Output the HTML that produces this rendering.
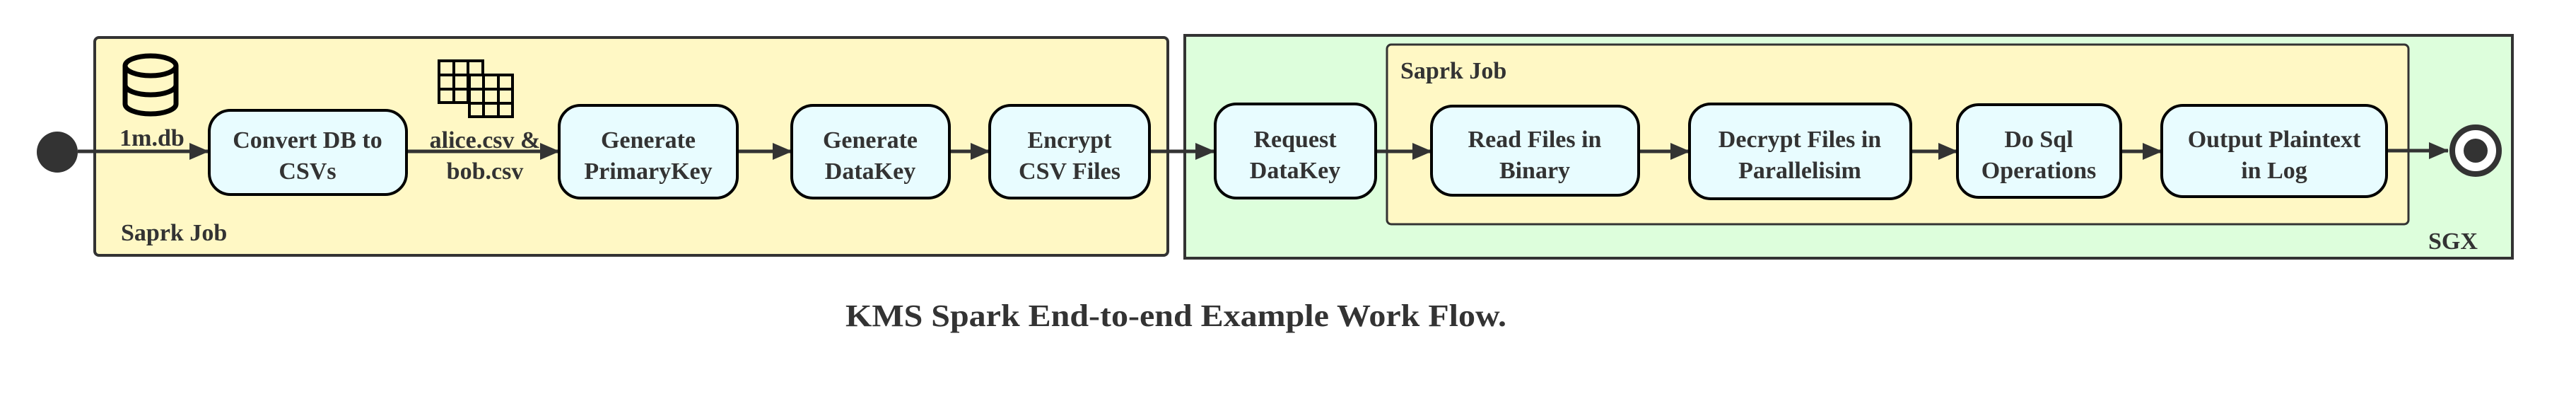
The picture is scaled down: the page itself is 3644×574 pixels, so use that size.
<!DOCTYPE html>
<html><head><meta charset="utf-8"><style>
html,body{margin:0;padding:0;background:#fff;}
svg{display:block;}
</style></head><body>
<svg width="3644" height="574" viewBox="0 0 3644 574" xmlns="http://www.w3.org/2000/svg" font-family="'Liberation Serif', 'Times New Roman', serif" font-weight="bold">
<defs>
<marker id="ah" markerWidth="28" markerHeight="26" refX="27" refY="13" markerUnits="userSpaceOnUse" orient="auto">
<path d="M0,1 L28,13 L0,25 Z" fill="#333"/>
</marker>
</defs>
<rect x="134" y="53" width="1518" height="308" rx="6" fill="#fff8c5" stroke="#333" stroke-width="4"/>
<rect x="1676" y="50" width="1878" height="315" fill="#ddfedc" stroke="#333" stroke-width="4"/>
<rect x="1962" y="63" width="1445" height="254" rx="6" fill="#fff8c5" stroke="#333" stroke-width="3"/>

<g fill="#333" font-family="'Liberation Serif', serif" font-weight="bold">
<text x="171" y="340" font-size="34">Saprk Job</text>
<text x="1981" y="111" font-size="34">Saprk Job</text>
<text x="3435" y="352" font-size="34">SGX</text>
</g>

<circle cx="81" cy="215" r="29" fill="#333"/>

<g fill="none" stroke="#000" stroke-width="7">
<ellipse cx="213" cy="93" rx="36" ry="14"/>
<path d="M177,93 V147 A36,14 0 0 0 249,147 V93"/>
<path d="M177,120 A36,14 0 0 0 249,120"/>
</g>

<g stroke="#000" stroke-width="4" fill="#fff8c5">
<rect x="621" y="86" width="62" height="59"/>
<path d="M621,106 H683 M621,126 H683 M642,86 V145 M662,86 V145" fill="none"/>
<rect x="664" y="106" width="61" height="59"/>
<path d="M664,126 H725 M664,146 H725 M684,106 V165 M705,106 V165" fill="none"/>
</g>

<g stroke="#333" stroke-width="5" fill="none" marker-end="url(#ah)">
<line x1="110" y1="214" x2="295" y2="214"/>
<line x1="575" y1="214" x2="791" y2="214"/>
<line x1="1043" y1="214" x2="1120" y2="214"/>
<line x1="1343" y1="214" x2="1400" y2="214"/>
<line x1="1626" y1="214" x2="1718" y2="214"/>
<line x1="1946" y1="214" x2="2025" y2="214"/>
<line x1="2318" y1="214" x2="2390" y2="214"/>
<line x1="2703" y1="214" x2="2769" y2="214"/>
<line x1="3000" y1="214" x2="3058" y2="214"/>
<line x1="3377" y1="213" x2="3463" y2="213"/>
</g>

<g fill="#e8fcff" stroke="#000" stroke-width="4">
<rect x="296" y="156" width="279" height="119" rx="30"/>
<rect x="791" y="149" width="252" height="131" rx="30"/>
<rect x="1120" y="149" width="223" height="131" rx="30"/>
<rect x="1400" y="149" width="226" height="131" rx="30"/>
<rect x="1719" y="147" width="227" height="133" rx="30"/>
<rect x="2025" y="150" width="293" height="126" rx="30"/>
<rect x="2390" y="147" width="313" height="134" rx="30"/>
<rect x="2769" y="148" width="231" height="131" rx="30"/>
<rect x="3058" y="149" width="318" height="129" rx="30"/>
</g>
<g font-size="34" text-anchor="middle" fill="#333" font-family="'Liberation Serif', serif" font-weight="bold">
<text x="215" y="206">1m.db</text>
<text x="686" y="209">alice.csv &amp;</text>
<text x="686" y="253">bob.csv</text>
<text x="435" y="209">Convert DB to</text><text x="435" y="253">CSVs</text>
<text x="917" y="209">Generate</text><text x="917" y="253">PrimaryKey</text>
<text x="1231" y="209">Generate</text><text x="1231" y="253">DataKey</text>
<text x="1513" y="209">Encrypt</text><text x="1513" y="253">CSV Files</text>
<text x="1832" y="208">Request</text><text x="1832" y="252">DataKey</text>
<text x="2171" y="208">Read Files in</text><text x="2171" y="252">Binary</text>
<text x="2546" y="208">Decrypt Files in</text><text x="2546" y="252">Parallelisim</text>
<text x="2884" y="208">Do Sql</text><text x="2884" y="252">Operations</text>
<text x="3217" y="208">Output Plaintext</text><text x="3217" y="252">in Log</text>
</g>

<circle cx="3502" cy="213" r="33" fill="#fff" stroke="#333" stroke-width="8"/>
<circle cx="3502" cy="213" r="17" fill="#333"/>

<text x="1196" y="461" font-size="44" fill="#333" font-family="'Liberation Serif', serif" font-weight="bold" textLength="935" lengthAdjust="spacingAndGlyphs">KMS Spark End-to-end Example Work Flow.</text>
</svg>
</body></html>
